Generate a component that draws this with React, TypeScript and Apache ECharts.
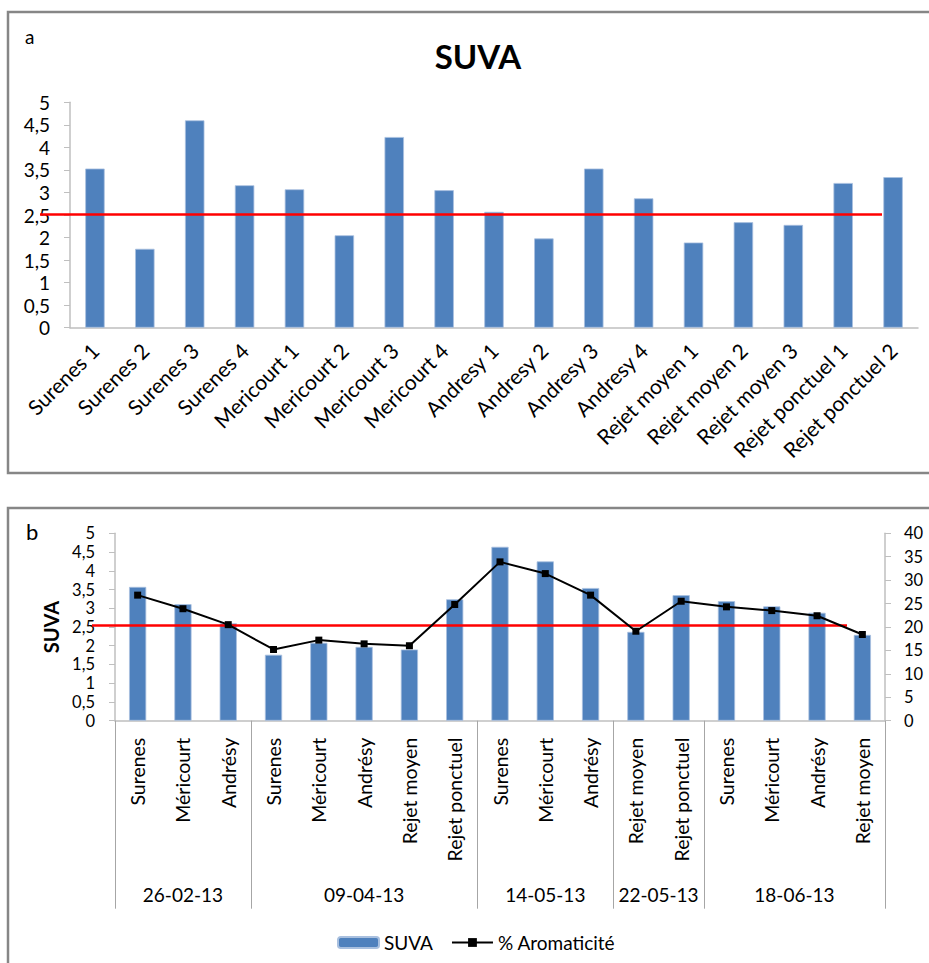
import React, { useEffect, useRef } from "react";
import * as echarts from "echarts";

const topCategories = [
  "Surenes 1", "Surenes 2", "Surenes 3", "Surenes 4",
  "Mericourt 1", "Mericourt 2", "Mericourt 3", "Mericourt 4",
  "Andresy 1", "Andresy 2", "Andresy 3", "Andresy 4",
  "Rejet moyen 1", "Rejet moyen 2", "Rejet moyen 3",
  "Rejet ponctuel 1", "Rejet ponctuel 2",
];
const topSuva = [3.53, 1.75, 4.6, 3.16, 3.07, 2.05, 4.23, 3.05, 2.57, 1.98, 3.53, 2.87, 1.89, 2.34, 2.28, 3.21, 3.34];

const bottomCategories = [
  "Surenes", "Méricourt", "Andrésy",
  "Surenes", "Méricourt", "Andrésy", "Rejet moyen", "Rejet ponctuel",
  "Surenes", "Méricourt", "Andrésy",
  "Rejet moyen", "Rejet ponctuel",
  "Surenes", "Méricourt", "Andrésy", "Rejet moyen",
];
const bottomSuva = [3.57, 3.11, 2.6, 1.76, 2.08, 1.97, 1.9, 3.24, 4.64, 4.25, 3.54, 2.37, 3.35, 3.19, 3.05, 2.88, 2.29];
const aromaticite = [26.8, 23.9, 20.5, 15.2, 17.2, 16.4, 16.0, 24.8, 33.9, 31.4, 26.8, 19.1, 25.5, 24.3, 23.5, 22.4, 18.4];

const dateGroups = ["26-02-13", "09-04-13", "14-05-13", "22-05-13", "18-06-13"];
const groupSizes = [3, 5, 3, 2, 4];

const topThreshold = 2.52;
const bottomThreshold = 2.55;

const FONT = "Lato, 'Open Sans', sans-serif";

export default function App() {
  const ref = useRef<HTMLDivElement>(null);
  useEffect(() => {
    if (!ref.current) return;
    const chart = echarts.init(ref.current, undefined, { renderer: "svg" });

    // half-category axis for date group labels and group separators
    const nHalf = bottomCategories.length * 2 + 1;
    const halfData: string[] = new Array(nHalf).fill("");
    const boundaryIdx: number[] = [0];
    let acc = 0;
    groupSizes.forEach((s, i) => {
      halfData[acc * 2 + s] = dateGroups[i];
      acc += s;
      boundaryIdx.push(acc * 2);
    });

    const comma = (v: number) => String(v).replace(".", ",");
    const axisGray = "#BFBFBF";
    const labelStyle = { color: "#000", fontFamily: FONT, fontSize: 19 };
    const smallY = { color: "#000", fontFamily: FONT, fontSize: 16.5, lineHeight: 16 };

    chart.setOption({
      animation: false,
      textStyle: { fontFamily: FONT },
      graphic: [
        { type: "rect", shape: { x: 8, y: 12, width: 940, height: 461 }, style: { fill: "none", stroke: "#868686", lineWidth: 2.5 } },
        { type: "rect", shape: { x: 8, y: 508, width: 940, height: 500 }, style: { fill: "none", stroke: "#868686", lineWidth: 2.5 } },
        { type: "text", x: 25, y: 27, style: { text: "a", fontFamily: FONT, fontSize: 19, fill: "#000" } },
        { type: "text", x: 26, y: 520, style: { text: "b", fontFamily: FONT, fontSize: 22, fill: "#000" } },
        { type: "text", x: 478, y: 56, style: { text: "SUVA", fontFamily: FONT, fontSize: 33, fontWeight: "bold", fill: "#000", align: "center", verticalAlign: "middle" } },
      ],
      grid: [
        { left: 70, top: 102.3, width: 848, height: 225.4 },
        { left: 115, top: 533.3, width: 770, height: 187.4 },
      ],
      legend: {
        left: 332,
        top: 928,
        itemWidth: 41,
        itemHeight: 11,
        itemGap: 18,
        textStyle: { ...labelStyle, fontSize: 19 },
        data: ["SUVA", "% Aromaticité"],
      },
      xAxis: [
        {
          gridIndex: 0,
          type: "category",
          data: topCategories,
          axisLine: { onZero: false, lineStyle: { color: axisGray, width: 1.5 } },
          axisTick: { length: 6, lineStyle: { color: axisGray } },
          axisLabel: { ...labelStyle, fontSize: 21, rotate: 45, interval: 0, margin: 19 },
        },
        {
          gridIndex: 1,
          type: "category",
          data: bottomCategories,
          position: "bottom",
          axisLine: { onZero: false, lineStyle: { color: axisGray, width: 1.5 } },
          axisTick: { length: 146, lineStyle: { color: "#A6A6A6" } },
          axisLabel: { ...labelStyle, fontSize: 19.5, rotate: 90, interval: 0, margin: 17 },
        },
        {
          gridIndex: 1,
          type: "category",
          data: halfData,
          boundaryGap: false,
          position: "bottom",
          axisLine: { show: false, onZero: false },
          axisTick: {
            show: true,
            length: 188,
            interval: (i: number) => boundaryIdx.indexOf(i) >= 0,
            lineStyle: { color: "#A6A6A6" },
          },
          axisLabel: { ...labelStyle, fontSize: 19, interval: 0, margin: 164 },
        },
      ],
      yAxis: [
        {
          gridIndex: 0,
          type: "value",
          min: 0,
          max: 5,
          interval: 0.5,
          axisLine: { show: true, lineStyle: { color: axisGray, width: 1.5 } },
          axisTick: { show: true, length: 6, lineStyle: { color: axisGray } },
          splitLine: { show: false },
          axisLabel: { ...labelStyle, margin: 20, formatter: comma, showMinLabel: true, showMaxLabel: true },
        },
        {
          gridIndex: 1,
          type: "value",
          min: 0,
          max: 5,
          interval: 0.5,
          name: "SUVA",
          nameLocation: "middle",
          nameRotate: 90,
          nameGap: 51,
          nameTextStyle: { color: "#000", fontFamily: FONT, fontSize: 20, fontWeight: "bold" },
          axisLine: { show: true, lineStyle: { color: axisGray, width: 1.5 } },
          axisTick: { show: true, length: 6, lineStyle: { color: axisGray } },
          splitLine: { show: false },
          axisLabel: { ...smallY, margin: 20, formatter: comma, showMinLabel: true, showMaxLabel: true },
        },
        {
          gridIndex: 1,
          type: "value",
          position: "right",
          min: 0,
          max: 40,
          interval: 5,
          axisLine: { show: true, lineStyle: { color: axisGray, width: 1.5 } },
          axisTick: { show: true, length: 6, lineStyle: { color: axisGray } },
          splitLine: { show: false },
          axisLabel: { ...smallY, margin: 19, showMinLabel: true, showMaxLabel: true },
        },
      ],
      series: [
        {
          name: "SUVA top",
          type: "bar",
          xAxisIndex: 0,
          yAxisIndex: 0,
          data: topSuva,
          barWidth: "39%",
          itemStyle: { color: "#4F81BD", borderColor: "#A9C0DF", borderWidth: 0.8 },
          markLine: {
            silent: true,
            symbol: "none",
            label: { show: false },
            lineStyle: { color: "#FF0000", width: 2.5, type: "solid" },
            data: [[{ xAxis: 0, yAxis: topThreshold, x: 40 }, { xAxis: 16, yAxis: topThreshold, x: 882 }]],
          },
        },
        {
          name: "SUVA",
          type: "bar",
          xAxisIndex: 1,
          yAxisIndex: 1,
          data: bottomSuva,
          barWidth: "38%",
          itemStyle: { color: "#4F81BD", borderColor: "#A9C0DF", borderWidth: 0.8 },
          markLine: {
            silent: true,
            symbol: "none",
            label: { show: false },
            lineStyle: { color: "#FF0000", width: 2.5, type: "solid" },
            data: [[{ xAxis: 0, yAxis: bottomThreshold, x: 92 }, { xAxis: 16, yAxis: bottomThreshold, x: 847 }]],
          },
        },
        {
          name: "% Aromaticité",
          type: "line",
          xAxisIndex: 1,
          yAxisIndex: 2,
          data: aromaticite,
          symbol: "rect",
          symbolSize: 7,
          z: 5,
          lineStyle: { color: "#000", width: 2 },
          itemStyle: { color: "#000" },
        },
      ],
    });
    return () => chart.dispose();
  }, []);
  return <div ref={ref} style={{ position: "absolute", left: 0, top: 0, width: 929, height: 963 }} />;
}
